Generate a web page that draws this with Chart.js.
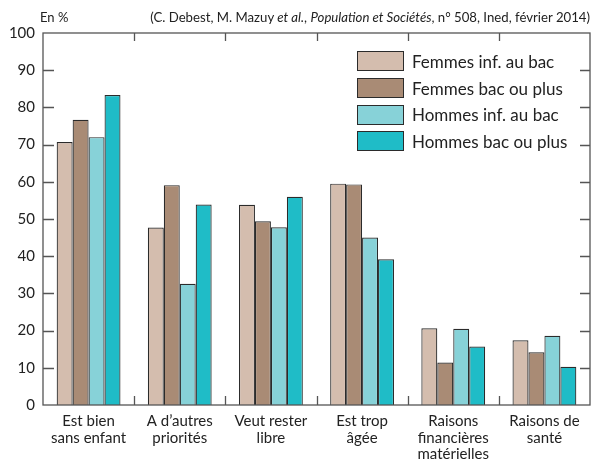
<!DOCTYPE html>
<html>
<head>
<meta charset="utf-8">
<script src="https://cdn.jsdelivr.net/npm/chart.js@4"></script>
<style>
  body { margin: 0; background: #fff; }
  #wrap { position: relative; width: 595px; height: 459px; font-family: Lato, "Open Sans", sans-serif; color: #222; }
  #chart { position: absolute; left: 0; top: 0; }
  #unit { position: absolute; left: 40px; top: 9px; font-size: 13px; }
  #source { position: absolute; right: 5px; top: 9px; font-size: 13.2px; white-space: nowrap; }
  #legend { position: absolute; left: 357px; top: 44px; }
  .item { display: flex; align-items: center; height: 34.7px; margin-top: -8px; font-size: 17px; }
  .item:first-child { margin-top: 0; }
  .box { width: 45px; height: 18px; border: 1px solid #2b2b2b; margin-right: 8px; box-sizing: content-box; }
</style>
</head>
<body>
<div id="wrap">
  <canvas id="chart" width="595" height="459"></canvas>
  <div id="unit">En %</div>
  <div id="source">(C. Debest, M. Mazuy <i>et al.</i>, <i>Population et Sociétés</i>, n° 508, Ined, février 2014)</div>
  <div id="legend"></div>
</div>
<script>
const categories = [
  ['Est bien', 'sans enfant'],
  ['A d\u2019autres', 'priorités'],
  ['Veut rester', 'libre'],
  ['Est trop', 'âgée'],
  ['Raisons', 'financières', 'matérielles'],
  ['Raisons de', 'santé']
];
const seriesNames = ['Femmes inf. au bac', 'Femmes bac ou plus', 'Hommes inf. au bac', 'Hommes bac ou plus'];
const femmesInfBac = [70.7, 47.7, 53.8, 59.5, 20.6, 17.4];
const femmesBacPlus = [76.7, 59.1, 49.4, 59.3, 11.4, 14.2];
const hommesInfBac = [72.0, 32.6, 47.8, 45.0, 20.5, 18.6];
const hommesBacPlus = [83.3, 53.9, 56.0, 39.2, 15.7, 10.3];
const yTicks = [0, 10, 20, 30, 40, 50, 60, 70, 80, 90, 100];
const colors = ['#d4bdae', '#a98b75', '#87d2d8', '#1fbcc7'];

const seriesValues = [femmesInfBac, femmesBacPlus, hommesInfBac, hommesBacPlus];

// Legend (html)
const legend = document.getElementById('legend');
seriesNames.forEach((name, i) => {
  legend.innerHTML += `<div class="item"><span class="box" style="background:${colors[i]}"></span>${name}</div>`;
});

// Frame and inside ticks
const framePlugin = {
  id: 'frame',
  afterDraw(chart) {
    const ctx = chart.ctx;
    const a = chart.chartArea;
    const x = chart.scales.x;
    const y = chart.scales.y;
    ctx.save();
    ctx.strokeStyle = '#555';
    ctx.lineWidth = 1.3;
    ctx.strokeRect(a.left, a.top, a.right - a.left, a.bottom - a.top);
    ctx.beginPath();
    yTicks.slice(1, -1).forEach(v => {
      const py = Math.round(y.getPixelForValue(v)) + 0.5;
      ctx.moveTo(a.left, py); ctx.lineTo(a.left + 11, py);
      ctx.moveTo(a.right, py); ctx.lineTo(a.right - 10, py);
    });
    for (let i = 0; i < categories.length - 1; i++) {
      const px = Math.round((x.getPixelForValue(i) + x.getPixelForValue(i + 1)) / 2) + 0.5;
      ctx.moveTo(px, a.bottom); ctx.lineTo(px, a.bottom - 9);
      ctx.moveTo(px, a.top); ctx.lineTo(px, a.top + 8);
    }
    ctx.stroke();
    ctx.restore();
  }
};

new Chart(document.getElementById('chart'), {
  type: 'bar',
  data: {
    labels: categories,
    datasets: seriesNames.map((name, i) => ({
      label: name,
      data: seriesValues[i],
      backgroundColor: colors[i],
      borderColor: '#2b2b2b',
      borderWidth: 1.2,
      borderSkipped: 'bottom',
      barPercentage: 1,
      categoryPercentage: 0.7
    }))
  },
  options: {
    responsive: false,
    animation: false,
    layout: { padding: { left: 0, right: 5, top: 33, bottom: 0 } },
    plugins: { legend: { display: false }, tooltip: { enabled: false } },
    scales: {
      x: {
        grid: { display: false },
        border: { display: false },
        ticks: {
          color: '#222',
          font: { family: 'Lato', size: 15, lineHeight: 1.1 },
          padding: 0,
          maxRotation: 0,
          autoSkip: false
        },
        afterFit(scale) { scale.height = 54; }
      },
      y: {
        min: 0,
        max: 100,
        grid: { display: false, drawTicks: false },
        border: { display: false },
        afterBuildTicks(scale) { scale.ticks = yTicks.map(v => ({ value: v })); },
        ticks: {
          color: '#222',
          font: { family: 'Lato', size: 15 },
          padding: 8
        },
        afterFit(scale) { scale.width = 43; }
      }
    }
  },
  plugins: [framePlugin]
});
</script>
</body>
</html>
